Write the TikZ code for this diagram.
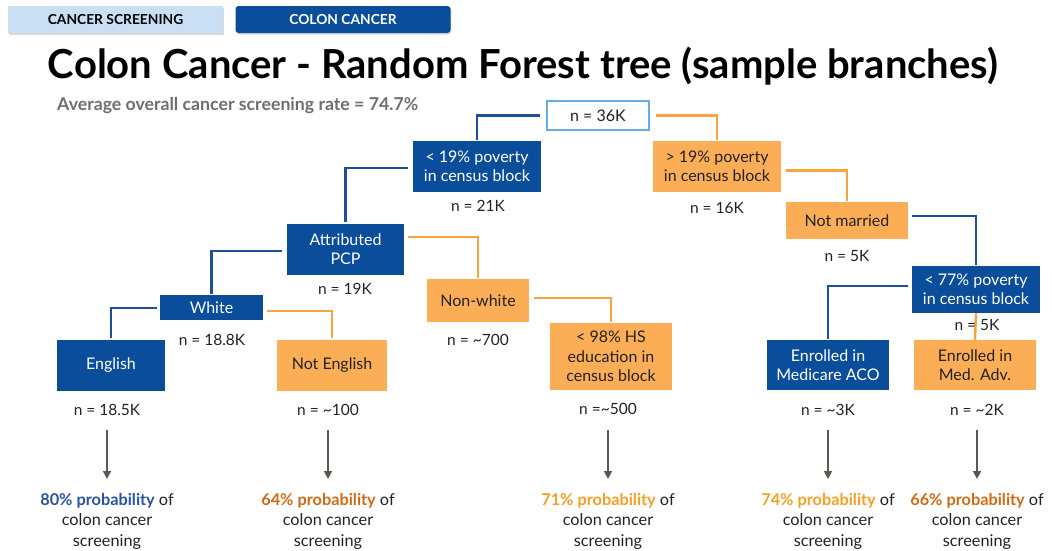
\documentclass[tikz,border=0pt]{standalone}
\usepackage{fontspec}
\setmainfont{Lato}
\usetikzlibrary{arrows.meta,shadows}
\definecolor{cblue}{HTML}{0A4E9B}
\definecolor{corange}{HTML}{FCAE57}
\definecolor{lblue}{HTML}{1F4E9A}
\definecolor{lorange}{HTML}{F9A43D}
\definecolor{tabblue}{HTML}{C9E0F4}
\definecolor{rootborder}{HTML}{64ADE8}
\definecolor{arrgray}{HTML}{575A4E}
\definecolor{subgray}{HTML}{6E6E6E}
\definecolor{pblue}{HTML}{2A52A3}
\definecolor{pdorange}{HTML}{CF6A14}
\definecolor{plorange}{HTML}{F69E25}
\definecolor{txt}{HTML}{222222}
\tikzset{
  nodetext/.style={font=\fontsize{16}{19.5}\selectfont, align=center, inner sep=0pt},
  bluebox/.style={nodetext, fill=cblue, text=white},
  orangebox/.style={nodetext, fill=corange, text=txt},
  rootbox/.style={nodetext, fill=white, draw=rootborder, line width=2pt, text=txt},
  nlabel/.style={font=\fontsize{15.5}{18}\selectfont, text=txt, inner sep=1pt},
  bline/.style={draw=lblue, line width=2.4pt},
  oline/.style={draw=lorange, line width=2.4pt},
  arr/.style={draw=arrgray, line width=1.8pt, -{Triangle[width=8pt,length=8pt]}},
  prob/.style={font=\fontsize{16.3}{20.5}\selectfont, align=center, text=txt, inner sep=0pt, anchor=north},
  tab/.style={font=\bfseries\fontsize{13.8}{15}\selectfont, inner sep=0pt, minimum height=27pt, minimum width=215pt},
}
\begin{document}
\begin{tikzpicture}[x=1pt,y=-1pt]
\useasboundingbox (0,0) rectangle (1052,550);
% tabs
\node[tab, fill=tabblue, text=black, drop shadow={shadow xshift=0.8pt, shadow yshift=-1.5pt, opacity=0.3}] (tab1) at (115.5,19.5) {CANCER SCREENING};
\node[tab, fill=cblue, text=white, rounded corners=3pt, drop shadow={shadow xshift=0.8pt, shadow yshift=-1.5pt, opacity=0.3}] (tab2) at (343,19.5) {COLON CANCER};
% title
\node[font=\bfseries\fontsize{40}{45}\selectfont, text=black, inner sep=0pt] (title) at (523,66) {Colon Cancer - Random Forest tree (sample branches)};
\node[font=\bfseries\fontsize{17.7}{20}\selectfont, text=subgray, inner sep=0pt, anchor=west] (sub) at (57,106) {Average overall cancer screening rate = 74.7\%};
% nodes
\node[rootbox, minimum width=102pt, minimum height=29pt] (root) at (598,115.5) {n = 36K};
\node[bluebox, minimum width=128pt, minimum height=51pt] (p19) at (477,166.5) {< 19\% poverty\\in census block};
\node[orangebox, minimum width=128pt, minimum height=51pt] (g19) at (717,166.5) {> 19\% poverty\\in census block};
\node[bluebox, minimum width=117pt, minimum height=51pt] (attr) at (345.5,249) {Attributed\\PCP};
\node[orangebox, minimum width=102pt, minimum height=43pt] (nonw) at (478,300.5) {Non-white};
\node[bluebox, minimum width=103pt, minimum height=25pt] (white) at (211.5,307.5) {White};
\node[bluebox, minimum width=108pt, minimum height=51pt] (eng) at (111,365) {English};
\node[orangebox, minimum width=110pt, minimum height=51pt] (neng) at (332,365) {Not English};
\node[orangebox, minimum width=122pt, minimum height=67pt] (hs) at (611,356.5) {< 98\% HS\\education in\\census block};
\node[orangebox, minimum width=122pt, minimum height=37pt] (nm) at (847,220.5) {Not married};
\node[bluebox, minimum width=128pt, minimum height=47pt] (p77) at (976,289.5) {< 77\% poverty\\in census block};
\node[bluebox, minimum width=122pt, minimum height=50pt] (aco) at (828,365) {Enrolled in\\Medicare ACO};
\node[orangebox, minimum width=122pt, minimum height=50pt] (madv) at (975,365) {Enrolled in\\Med. Adv.};
% connectors
\draw[bline] ([xshift=-6pt]root.west) -| ([yshift=1pt]p19.north);
\draw[oline] ([xshift=6pt]root.east) -| ([yshift=1pt]g19.north);
\draw[bline] ([xshift=-5pt,yshift=-1.5pt]p19.west) -| ([yshift=1pt]attr.north);
\draw[oline] ([xshift=5pt,yshift=-4pt]g19.east) -| ([yshift=1pt]nm.north);
\draw[oline] ([xshift=4pt,yshift=12pt]attr.east) -| ([yshift=1pt]nonw.north);
\draw[bline] ([xshift=-5pt,yshift=-2pt]attr.west) -| ([yshift=1pt]white.north);
\draw[bline] ([xshift=-3pt,yshift=-0.5pt]white.west) -| ([yshift=1pt]eng.north);
\draw[oline] ([xshift=4pt,yshift=-3.5pt]white.east) -| ([yshift=1pt]neng.north);
\draw[oline] ([xshift=5pt,yshift=2.5pt]nonw.east) -| ([yshift=1pt]hs.north);
\draw[bline] ([xshift=4pt,yshift=4.5pt]nm.east) -| ([yshift=1pt]p77.north);
\draw[bline] ([xshift=-4pt,yshift=3.5pt]p77.west) -| ([yshift=1pt]aco.north);
\draw[oline] (p77.south) -- (madv.north);
% n labels
\node[nlabel] (n19) at (478,206) {n = 21K};
\node[nlabel] (ng19) at (717,208) {n = 16K};
\node[nlabel] (nattr) at (345,289) {n = 19K};
\node[nlabel] (nnonw) at (478,340) {n = \textasciitilde700};
\node[nlabel] (nwhite) at (212,340) {n = 18.8K};
\node[nlabel] (neng) at (107,410) {n = 18.5K};
\node[nlabel] (nneng) at (328,410) {n = \textasciitilde100};
\node[nlabel] (nhs) at (608,409) {n =\textasciitilde500};
\node[nlabel] (nnm) at (847,256) {n = 5K};
\node[nlabel] (np77) at (977,325) {n = 5K};
\node[nlabel] (naco) at (828,410) {n = \textasciitilde3K};
\node[nlabel] (nmadv) at (977,410) {n = \textasciitilde2K};
% probabilities
\node[prob] (peng) at (107,493) {\textbf{\textcolor{pblue}{80\% probability}} of\\colon cancer\\screening};
\node[prob] (pneng) at (328,493) {\textbf{\textcolor{pdorange}{64\% probability}} of\\colon cancer\\screening};
\node[prob] (phs) at (608,493) {\textbf{\textcolor{plorange}{71\% probability}} of\\colon cancer\\screening};
\node[prob] (paco) at (828,493) {\textbf{\textcolor{plorange}{74\% probability}} of\\colon cancer\\screening};
\node[prob] (pmadv) at (977,493) {\textbf{\textcolor{pdorange}{66\% probability}} of\\colon cancer\\screening};
% arrows
\draw[arr] ([yshift=-13pt]neng.south) -- ([yshift=14pt]peng.north);
\draw[arr] ([yshift=-13pt]nneng.south) -- ([yshift=14pt]pneng.north);
\draw[arr] ([yshift=-14pt]nhs.south) -- ([yshift=14pt]phs.north);
\draw[arr] ([yshift=-13pt]naco.south) -- ([yshift=14pt]paco.north);
\draw[arr] ([yshift=-13pt]nmadv.south) -- ([yshift=14pt]pmadv.north);
\end{tikzpicture}
\end{document}
